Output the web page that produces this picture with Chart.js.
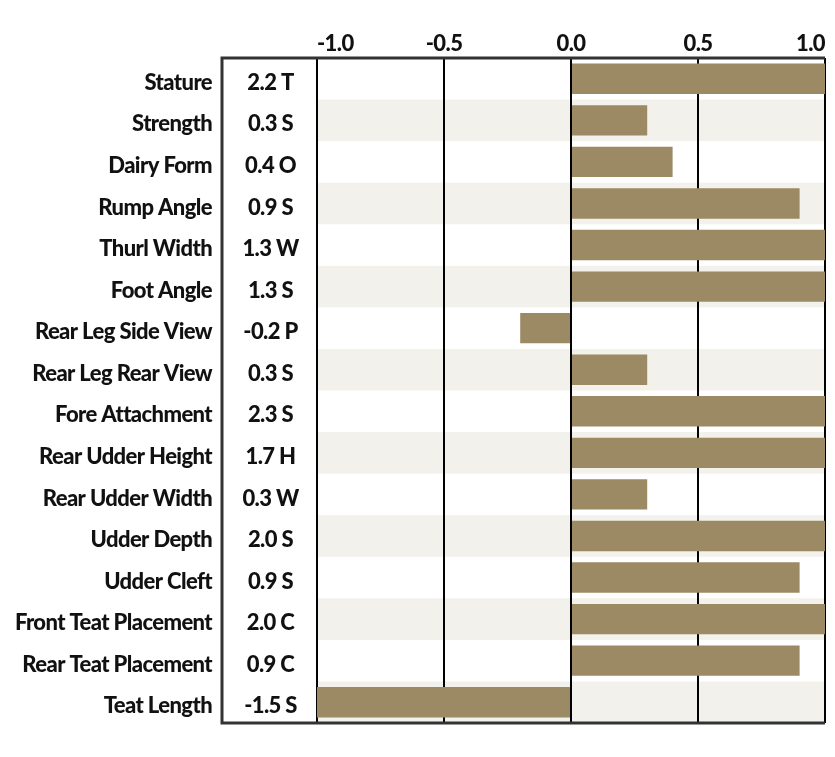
<!DOCTYPE html>
<html>
<head>
<meta charset="utf-8">
<script src="https://cdn.jsdelivr.net/npm/chart.js@4"></script>
<style>
html, body { margin: 0; padding: 0; background: #fff; }
#wrap { position: relative; width: 835px; height: 757px; }
</style>
</head>
<body>
<div id="wrap"><canvas id="traitChart"></canvas></div>
<script>
// linear trait profile - values shown in the box, bars clipped to +/-1
var traits = [
    'Stature', 'Strength', 'Dairy Form', 'Rump Angle', 'Thurl Width', 'Foot Angle',
    'Rear Leg Side View', 'Rear Leg Rear View', 'Fore Attachment', 'Rear Udder Height',
    'Rear Udder Width', 'Udder Depth', 'Udder Cleft', 'Front Teat Placement',
    'Rear Teat Placement', 'Teat Length'
];
var scores = [2.2, 0.3, 0.4, 0.9, 1.3, 1.3, -0.2, 0.3, 2.3, 1.7, 0.3, 2.0, 0.9, 2.0, 0.9, -1.5];
var codes = ['T', 'S', 'O', 'S', 'W', 'S', 'P', 'S', 'S', 'H', 'W', 'S', 'S', 'C', 'C', 'S'];
var xTicks = [-1.0, -0.5, 0.0, 0.5, 1.0];

var barColor = '#9b8a63';
var stripeColor = '#f3f1ec';
var frameColor = '#333333';
var fontFamily = 'Lato, "Liberation Sans", Arial, sans-serif';
var fontWeight = '900';
var spacing = '-0.6px';

var valueColWidth = 95;

var framePlugin = {
    id: 'frame',
    beforeDraw: function (chart) {
        var ctx = chart.ctx;
        var area = chart.chartArea;
        var y = chart.scales.y;
        ctx.letterSpacing = spacing;
        var half = (y.getPixelForValue(1) - y.getPixelForValue(0)) / 2;
        ctx.save();
        ctx.fillStyle = stripeColor;
        traits.forEach(function (t, i) {
            if (i % 2 === 1) {
                var c = y.getPixelForValue(i);
                ctx.fillRect(area.left, c - half, area.right - area.left, half * 2);
            }
        });
        ctx.restore();
    },
    afterDraw: function (chart) {
        var ctx = chart.ctx;
        var area = chart.chartArea;
        var y = chart.scales.y;
        var boxLeft = area.left - valueColWidth;

        ctx.save();
        ctx.fillStyle = '#111';
        ctx.font = fontWeight + ' 22px ' + fontFamily;
        ctx.textAlign = 'center';
        ctx.textBaseline = 'middle';
        scores.forEach(function (v, i) {
            ctx.fillText(v.toFixed(1) + ' ' + codes[i], boxLeft + valueColWidth / 2 + 1, y.getPixelForValue(i) + 4);
        });

        ctx.strokeStyle = frameColor;
        ctx.lineWidth = 3;
        ctx.beginPath();
        ctx.moveTo(area.right, area.top);
        ctx.lineTo(boxLeft, area.top);
        ctx.lineTo(boxLeft, area.bottom);
        ctx.lineTo(area.right, area.bottom);
        ctx.stroke();
        ctx.restore();
    }
};

var ctx = document.getElementById('traitChart').getContext('2d');
new Chart(ctx, {
    type: 'bar',
    data: {
        labels: traits,
        datasets: [{
            data: scores,
            backgroundColor: barColor,
            borderWidth: 0,
            barPercentage: 0.73,
            categoryPercentage: 1.0
        }]
    },
    options: {
        indexAxis: 'y',
        responsive: true,
        maintainAspectRatio: false,
        animation: false,
        layout: { padding: { top: 0, right: 10, bottom: 34, left: 0 } },
        plugins: {
            legend: { display: false },
            tooltip: { enabled: false }
        },
        scales: {
            x: {
                position: 'top',
                min: -1,
                max: 1,
                afterBuildTicks: function (axis) {
                    axis.ticks = xTicks.map(function (v) { return { value: v }; });
                },
                afterFit: function (axis) {
                    axis.height = 58;
                    axis.paddingLeft = 0;
                    axis.paddingRight = 0;
                },
                ticks: {
                    align: 'inner',
                    padding: 1,
                    color: '#111',
                    font: { family: fontFamily, size: 22, weight: fontWeight },
                    callback: function (value) {
                        return Number(value).toFixed(1);
                    }
                },
                grid: {
                    color: '#000',
                    lineWidth: 2,
                    drawTicks: false
                },
                border: { display: false }
            },
            y: {
                afterFit: function (axis) {
                    axis.width = 317;
                    axis.paddingTop = 0;
                    axis.paddingBottom = 0;
                },
                ticks: {
                    padding: 105,
                    labelOffset: 4,
                    color: '#111',
                    font: { family: fontFamily, size: 22, weight: fontWeight }
                },
                grid: { display: false, drawTicks: false },
                border: { display: false }
            }
        }
    },
    plugins: [framePlugin]
});
</script>
</body>
</html>
